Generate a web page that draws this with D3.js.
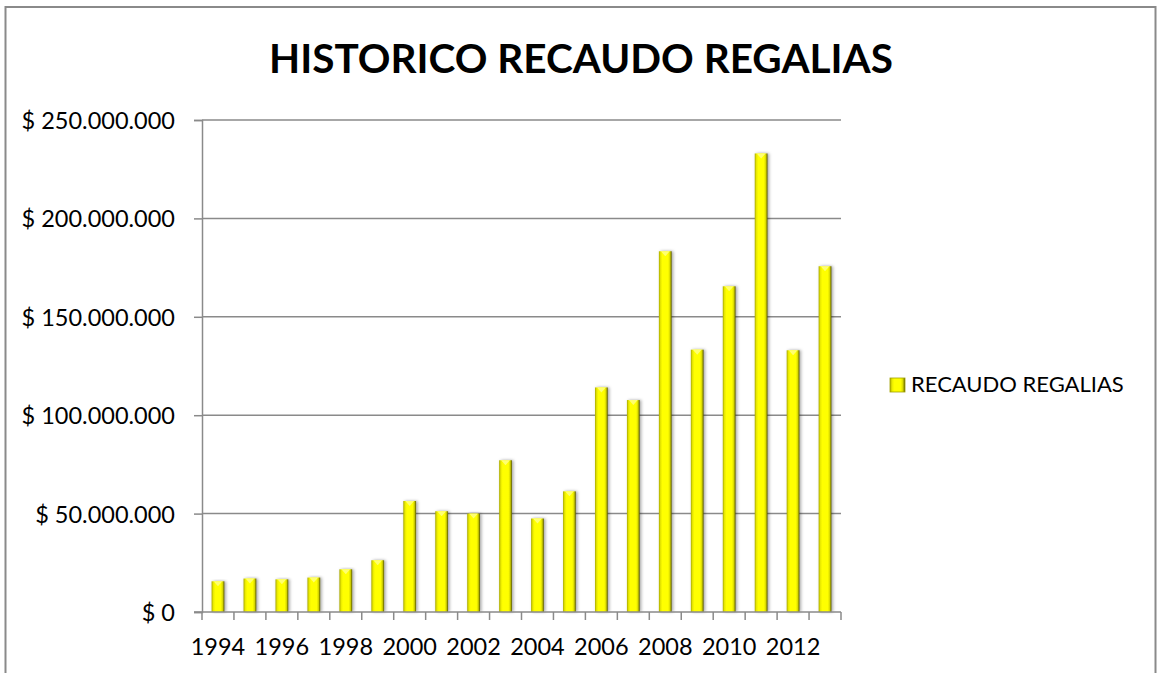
<!DOCTYPE html>
<html>
<head>
<meta charset="utf-8">
<script src="https://cdn.jsdelivr.net/npm/d3@7"></script>
<style>
  body { margin: 0; background: #fff; }
  svg { display: block; }
  text { font-family: Lato, "Open Sans", sans-serif; fill: #000; }
</style>
</head>
<body>
<div id="chart"></div>
<script>
// Data
const years = ["1994","1995","1996","1997","1998","1999","2000","2001","2002","2003",
               "2004","2005","2006","2007","2008","2009","2010","2011","2012","2013"];
const recaudo = [15600000, 17000000, 16600000, 17500000, 21700000, 26300000, 56400000, 51200000,
                 50000000, 77100000, 47500000, 61300000, 114100000, 107700000, 183300000,
                 133300000, 165500000, 233000000, 133000000, 175700000];
const yTicks = [0, 50000000, 100000000, 150000000, 200000000, 250000000];
const xLabels = ["1994","1996","1998","2000","2002","2004","2006","2008","2010","2012"];
const seriesName = "RECAUDO REGALIAS";
const title = "HISTORICO RECAUDO REGALIAS";

// Dimensions
const W = 1157, H = 673;
const margin = { top: 120, right: 316, bottom: 61, left: 202 };
const width = W - margin.left - margin.right;
const height = H - margin.top - margin.bottom;

const locale = d3.formatLocale({ decimal: ",", thousands: ".", grouping: [3], currency: ["$ ", ""] });
const fmt = locale.format("$,.0f");

const svg = d3.select("#chart").append("svg")
    .attr("width", W)
    .attr("height", H);

// Gradients / shadow for the bevelled Excel bars
const defs = svg.append("defs");
const grad = defs.append("linearGradient").attr("id", "barGrad")
    .attr("x1", "0%").attr("x2", "100%").attr("y1", "0%").attr("y2", "0%");
[["0%", "#a8a800"], ["14%", "#eaea00"], ["28%", "#ffff00"], ["72%", "#ffff00"],
 ["86%", "#d8d800"], ["100%", "#555500"]].forEach(s =>
    grad.append("stop").attr("offset", s[0]).attr("stop-color", s[1]));

const shadow = defs.append("filter").attr("id", "shadow")
    .attr("x", "-50%").attr("y", "-5%").attr("width", "200%").attr("height", "110%");
shadow.append("feDropShadow")
    .attr("dx", 1.5).attr("dy", 0).attr("stdDeviation", 1.6)
    .attr("flood-color", "#000").attr("flood-opacity", 0.35);

// Chart border
svg.append("rect")
    .attr("x", 5.5).attr("y", 7)
    .attr("width", 1150).attr("height", 720)
    .attr("fill", "none")
    .attr("stroke", "#8a8a8a")
    .attr("stroke-width", 2);

const chart = svg.append("g")
    .attr("transform", `translate(${margin.left},${margin.top})`);

// Scales
const x = d3.scaleBand()
    .domain(years)
    .range([0, width])
    .paddingInner(0.6)
    .paddingOuter(0.3);

const y = d3.scaleLinear()
    .domain([0, 250000000])
    .range([height, 0]);

const step = x.step();

// Gridlines
chart.append("g")
    .selectAll("line")
    .data(yTicks.filter(d => d > 0))
    .join("line")
    .attr("x1", 0).attr("x2", width)
    .attr("y1", d => y(d)).attr("y2", d => y(d))
    .attr("stroke", "#8a8a8a")
    .attr("stroke-width", 1.5);

// Y axis
const yAxis = chart.append("g")
    .call(d3.axisLeft(y).tickValues(yTicks).tickFormat(fmt).tickSize(8).tickPadding(19));
yAxis.select(".domain").attr("stroke", "#8a8a8a").attr("stroke-width", 1.5);
yAxis.selectAll(".tick line").attr("stroke", "#8a8a8a").attr("stroke-width", 1.5);
yAxis.selectAll(".tick text").style("font-size", "23.5px").attr("dy", "0.36em");

// Bars
const bars = chart.selectAll("g.bar")
    .data(years.map((yr, i) => ({ year: yr, value: recaudo[i] })))
    .join("g")
    .attr("class", "bar")
    .attr("filter", "url(#shadow)");

bars.append("rect")
    .attr("x", d => x(d.year))
    .attr("y", d => y(d.value))
    .attr("width", x.bandwidth())
    .attr("height", d => height - y(d.value))
    .attr("fill", "url(#barGrad)");

// top bevel chevron
bars.append("path")
    .attr("d", d => {
        const x0 = x(d.year), w = x.bandwidth(), t = y(d.value);
        return `M${x0 + 2},${t}L${x0 + w - 2},${t}L${x0 + w / 2},${t + 5}Z`;
    })
    .attr("fill", "#ffff70");

// X axis line and ticks at category boundaries
const xAxis = chart.append("g").attr("transform", `translate(0,${height})`);
xAxis.append("line")
    .attr("x1", -8).attr("x2", width)
    .attr("stroke", "#8a8a8a").attr("stroke-width", 1.5);
xAxis.selectAll("line.tick")
    .data(d3.range(years.length + 1))
    .join("line")
    .attr("class", "tick")
    .attr("x1", i => i * step).attr("x2", i => i * step)
    .attr("y1", 0).attr("y2", 8)
    .attr("stroke", "#8a8a8a").attr("stroke-width", 1.5);
xAxis.selectAll("text")
    .data(xLabels)
    .join("text")
    .attr("x", d => x(d) + x.bandwidth() / 2)
    .attr("y", 43)
    .attr("text-anchor", "middle")
    .style("font-size", "23.5px")
    .text(d => d);

// Title
svg.append("text")
    .attr("x", 581)
    .attr("y", 73)
    .attr("text-anchor", "middle")
    .style("font-size", "40.5px")
    .style("font-weight", "bold")
    .text(title);

// Legend
const legend = svg.append("g").attr("transform", `translate(890,378)`);
legend.append("rect")
    .attr("width", 15).attr("height", 14)
    .attr("fill", "url(#barGrad)")
    .attr("stroke", "#a0a000").attr("stroke-width", 0.8);
legend.append("text")
    .attr("x", 21)
    .attr("y", 14)
    .style("font-size", "22px")
    .text(seriesName);
</script>
</body>
</html>
